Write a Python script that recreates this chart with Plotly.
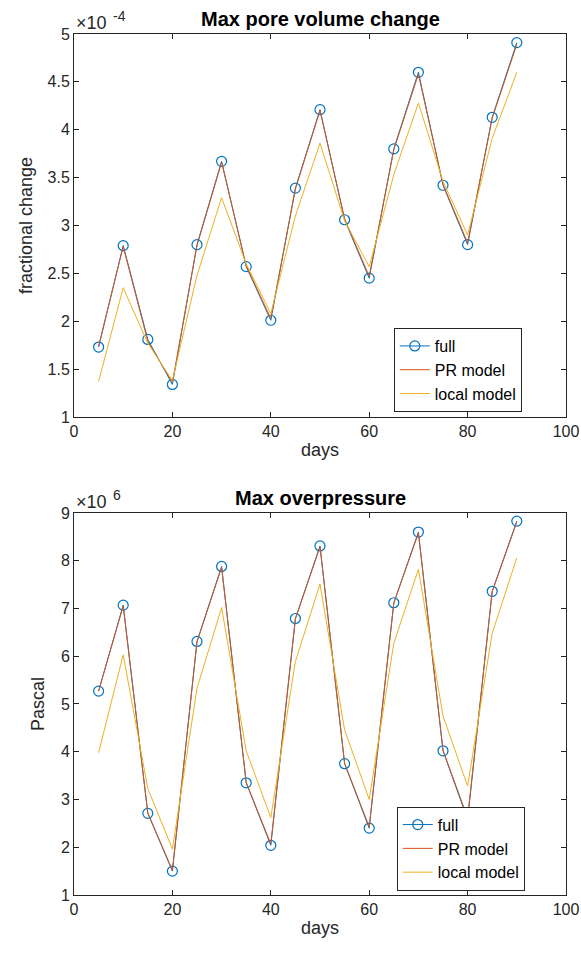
import plotly.graph_objects as go

days = [5, 10, 15, 20, 25, 30, 35, 40, 45, 50, 55, 60, 65, 70, 75, 80, 85, 90]

# pore volume change (units of 1e-4)
pv_scale = 1e-4
pv_full = [1.73, 2.79, 1.81, 1.34, 2.80, 3.67, 2.57, 2.01, 3.39, 4.21, 3.06, 2.45, 3.80, 4.60, 3.42, 2.80, 4.13, 4.91]
pv_pr = [1.74, 2.78, 1.79, 1.36, 2.79, 3.66, 2.58, 2.03, 3.38, 4.20, 3.07, 2.47, 3.79, 4.58, 3.43, 2.82, 4.12, 4.89]
pv_local = [1.37, 2.35, 1.77, 1.38, 2.48, 3.29, 2.60, 2.08, 3.10, 3.86, 3.05, 2.57, 3.53, 4.28, 3.46, 2.90, 3.91, 4.60]

# overpressure (units of 1e6 Pa)
op_scale = 1e6
op_full = [5.27, 7.07, 2.71, 1.50, 6.31, 7.88, 3.35, 2.04, 6.79, 8.31, 3.75, 2.40, 7.12, 8.60, 4.02, 2.58, 7.36, 8.83]
op_pr = [5.27, 7.05, 2.72, 1.52, 6.30, 7.86, 3.36, 2.07, 6.78, 8.29, 3.76, 2.43, 7.11, 8.58, 4.03, 2.62, 7.35, 8.81]
op_local = [3.98, 6.03, 3.23, 1.96, 5.33, 7.02, 4.02, 2.62, 5.89, 7.51, 4.46, 3.00, 6.27, 7.82, 4.75, 3.28, 6.48, 8.06]

pv_ticks = [1, 1.5, 2, 2.5, 3, 3.5, 4, 4.5, 5]
op_ticks = [1, 2, 3, 4, 5, 6, 7, 8, 9]
x_ticks = [0, 20, 40, 60, 80, 100]

C_FULL = "#0072BD"
C_PR = "#D95319"
C_LOCAL = "#EDB120"
AX = "#262626"
FONT = "Liberation Sans, Arial, sans-serif"

fig = go.Figure()

def add_series(xaxis, yaxis, legend, full, pr, local, scale):
    fig.add_trace(go.Scatter(x=days, y=[v * scale for v in full], mode="lines+markers", name="full",
                             line=dict(color=C_FULL, width=1),
                             marker=dict(symbol="circle-open", size=10, color=C_FULL, line=dict(width=1.2)),
                             xaxis=xaxis, yaxis=yaxis, legend=legend))
    fig.add_trace(go.Scatter(x=days, y=[v * scale for v in pr], mode="lines", name="PR model",
                             line=dict(color=C_PR, width=1),
                             xaxis=xaxis, yaxis=yaxis, legend=legend))
    fig.add_trace(go.Scatter(x=days, y=[v * scale for v in local], mode="lines", name="local model",
                             line=dict(color=C_LOCAL, width=1),
                             xaxis=xaxis, yaxis=yaxis, legend=legend))

add_series("x", "y", "legend", pv_full, pv_pr, pv_local, pv_scale)
add_series("x2", "y2", "legend2", op_full, op_pr, op_local, op_scale)

axis_common = dict(showline=True, linecolor=AX, linewidth=1, mirror="ticks", ticks="inside",
                   ticklen=5, tickcolor=AX, showgrid=False, zeroline=False, automargin=False,
                   tickfont=dict(family=FONT, size=16, color=AX))
TFONT = dict(family=FONT, size=18, color=AX)

def exponent(y, base, exp):
    return [
        dict(text=base, x=0, y=y, xref="paper", yref="paper", xanchor="left", yanchor="bottom",
             xshift=0, yshift=-1, showarrow=False, font=dict(family=FONT, size=18, color=AX)),
        dict(text=exp, x=0, y=y, xref="paper", yref="paper", xanchor="left", yanchor="bottom",
             xshift=37, yshift=8, showarrow=False, font=dict(family=FONT, size=14, color=AX)),
    ]

fig.update_layout(
    width=581, height=958,
    margin=dict(l=74, r=15, t=34, b=63),
    paper_bgcolor="white", plot_bgcolor="white",
    showlegend=True,
    font=dict(family=FONT, color=AX),
    xaxis=dict(domain=[0, 1], range=[0, 100], tickvals=x_ticks, anchor="y",
               title=dict(text="days", font=TFONT, standoff=4), **axis_common),
    yaxis=dict(domain=[0.5552, 1], range=[1 * pv_scale, 5 * pv_scale],
               tickvals=[t * pv_scale for t in pv_ticks], ticktext=[f"{t:g}" for t in pv_ticks], anchor="x",
               title=dict(text="fractional change", font=TFONT, standoff=10), **axis_common),
    xaxis2=dict(domain=[0, 1], range=[0, 100], tickvals=x_ticks, anchor="y2",
                title=dict(text="days", font=TFONT, standoff=4), **axis_common),
    yaxis2=dict(domain=[0, 0.4437], range=[1 * op_scale, 9 * op_scale],
                tickvals=[t * op_scale for t in op_ticks], ticktext=[f"{t:g}" for t in op_ticks], anchor="x2",
                title=dict(text="Pascal", font=TFONT, standoff=11), **axis_common),
    legend=dict(x=0.65, y=0.6585, xanchor="left", yanchor="top", bgcolor="white",
                bordercolor=AX, borderwidth=1, font=dict(family=FONT, size=16, color="black"),
                tracegroupgap=0, itemwidth=30),
    legend2=dict(x=0.656, y=0.1026, xanchor="left", yanchor="top", bgcolor="white",
                 bordercolor=AX, borderwidth=1, font=dict(family=FONT, size=16, color="black"),
                 tracegroupgap=0, itemwidth=30),
    annotations=[
        dict(text="<b>Max pore volume change</b>", x=0.5, y=1, xref="paper", yref="paper",
             xanchor="center", yanchor="bottom", yshift=2, showarrow=False,
             font=dict(family=FONT, size=20, color="black")),
        dict(text="<b>Max overpressure</b>", x=0.5, y=0.4437, xref="paper", yref="paper",
             xanchor="center", yanchor="bottom", yshift=2, showarrow=False,
             font=dict(family=FONT, size=20, color="black")),
    ] + exponent(1, "×10", "-4") + exponent(0.4437, "×10", "6"),
)

fig.write_html("out.html")
